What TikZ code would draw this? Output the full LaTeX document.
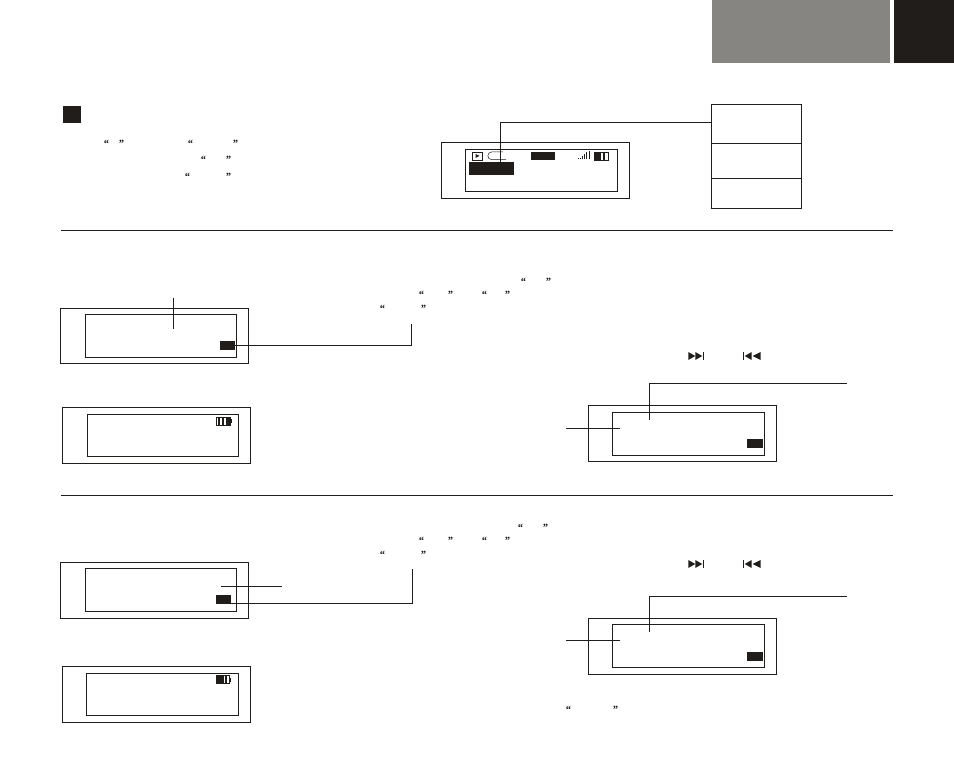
\documentclass[tikz,border=0pt]{standalone}
\usepackage{fontspec}
\setmainfont{Liberation Serif}
\definecolor{dark}{RGB}{33,29,26}
\definecolor{midgray}{RGB}{135,133,129}
\tikzset{
  x=1pt,y=-1pt,
  line width=1.2pt,
  frame/.style={draw=dark,rectangle,inner sep=0pt,outer sep=0pt},
  solid block/.style={fill=dark,draw=none,rectangle,inner sep=0pt,outer sep=0pt},
  gray block/.style={fill=midgray,draw=none,rectangle,inner sep=0pt,outer sep=0pt},
  link/.style={draw=dark,line width=1.2pt},
  quotemark/.style={inner sep=0pt,outer sep=0pt,yshift=-2.3pt,font=\fontsize{11}{11}\selectfont\bfseries\itshape,text=dark}
}
% \bx[style]{name}{x1}{y1}{x2}{y2}
\newcommand{\bx}[6][frame]{%
  \pgfmathsetmacro{\bw}{#5-#3}\pgfmathsetmacro{\bh}{#6-#4}%
  \pgfmathsetmacro{\cx}{(#3+#5)/2}\pgfmathsetmacro{\cy}{(#4+#6)/2}%
  \node[#1,minimum width=\bw pt,minimum height=\bh pt] (#2) at (\cx,\cy) {};}
\newcommand{\qq}[4]{%
  \node[quotemark] (#1o) at (#2,#4) {“};\node[quotemark] (#1c) at (#3,#4) {”};}
% battery: name x1 y1 x2 y2 cells
\newcommand{\batt}[6]{%
  \bx{#1}{#2}{#3}{#4}{#5}
  \fill[dark] (#4,#3+2) rectangle (#4+1.4,#5-2);
  \foreach \a/\b in {#6}{\fill[dark] (#2+\a,#3) rectangle (#2+\b,#5);}}
\newcommand{\nexticon}[2]{%
  \fill[dark] (#1,#2) -- (#1+7,#2+4) -- (#1,#2+8) -- cycle;
  \fill[dark] (#1+7,#2) -- (#1+14,#2+4) -- (#1+7,#2+8) -- cycle;
  \fill[dark] (#1+14.6,#2) rectangle (#1+16,#2+8);}
\newcommand{\previcon}[2]{%
  \fill[dark] (#1,#2) rectangle (#1+1.4,#2+8);
  \fill[dark] (#1+9,#2) -- (#1+2,#2+4) -- (#1+9,#2+8) -- cycle;
  \fill[dark] (#1+18,#2) -- (#1+10,#2+4) -- (#1+18,#2+8) -- cycle;}
\begin{document}
\begin{tikzpicture}
\useasboundingbox (0,0) rectangle (954,783);
\fill[white] (0,0) rectangle (954,783);
% header
\bx[gray block]{hgray}{712}{0}{890}{63}
\bx[solid block]{hdark}{894}{0}{954}{63}
\bx[solid block]{bullet}{63}{106}{81}{123}
% rules
\coordinate (r1a) at (61,230.5);\coordinate (r1b) at (893,230.5);
\coordinate (r2a) at (61,495.5);\coordinate (r2b) at (893,495.5);
\draw[link] (r1a) -- (r1b);
\draw[link] (r2a) -- (r2b);
% quotes
\qq{a1}{106}{121}{142}\qq{a2}{190}{235}{142}
\qq{a3}{203}{228}{158}
\qq{a4}{187}{228}{175}
\qq{b1}{523}{548}{280}
\qq{b2}{421}{450}{293}\qq{b3}{484}{507}{293}
\qq{b4}{382}{423}{307}
\qq{c1}{520}{545}{526}
\qq{c2}{421}{450}{539}\qq{c3}{484}{507}{539}
\qq{c4}{382}{423}{553}
\qq{d1}{568}{615}{708}
% device 1
\bx{d1out}{441.5}{142.5}{629.5}{198.5}
\bx{d1in}{465.5}{149.5}{617.5}{191.5}
\bx[solid block]{d1bar}{469}{162}{514}{175}
\bx[solid block]{d1mid}{531}{152}{555}{160}
\bx[frame,line width=0.9pt]{d1play}{472.5}{152}{482}{160}
\fill[dark] (475.5,154) -- (479.5,156) -- (475.5,158) -- cycle;
\draw[dark,line width=0.5pt] (506,159.6) -- (491.6,159.6) arc[start angle=90,end angle=270,radius=3.8] -- (503,152);
\foreach \i/\h in {0/1,1/1.5,2/3,3/5,4/7,5/8}{\draw[dark,line width=0.9pt] (578.5+2.1*\i,159.5) -- ++(0,-\h);}
\batt{d1bat}{594.5}{152.5}{608}{160.5}{0/6.5,8/10}
\bx{rtop}{711.5}{104.5}{801.5}{143.5}
\bx{rmid}{711.5}{143.5}{801.5}{178.5}
\bx{rbot}{711.5}{178.5}{801.5}{208.5}
\coordinate (l1a) at (711.5,122.5);\coordinate (l1b) at (500.5,163);
\draw[link] (l1a) -| (l1b);
% device 2
\bx{d2out}{60.5}{308.5}{248.5}{363.5}
\bx{d2in}{85.5}{314.5}{236.5}{357.5}
\bx[solid block]{d2ind}{220}{341}{235}{350}
\coordinate (l2a) at (173.5,298);\coordinate (l2b) at (173.5,329);
\draw[link] (l2a) -- (l2b);
\coordinate (l3a) at (235,345.5);\coordinate (l3b) at (411.5,324);
\draw[link] (l3a) -| (l3b);
% device 3
\bx{d3out}{62.5}{407.5}{250.5}{463.5}
\bx{d3in}{87.5}{414.5}{238.5}{456.5}
\batt{d3bat}{216.5}{417.5}{230.5}{425.5}{1/3.6,5/7.6,9/13}
% device 4
\bx{d4out}{588.5}{405.5}{776.5}{461.5}
\bx{d4in}{612.5}{412.5}{764.5}{455.5}
\bx[solid block]{d4ind}{747}{439}{763}{448}
\coordinate (l4a) at (846.5,383.5);\coordinate (l4b) at (649.5,420);
\draw[link] (l4a) -| (l4b);
\coordinate (l5a) at (566,428.5);\coordinate (l5b) at (620,428.5);
\draw[link] (l5a) -- (l5b);
\nexticon{688.3}{352}
\previcon{742.7}{352}
% device 5
\bx{d5out}{60.5}{562.5}{248.5}{618.5}
\bx{d5in}{85.5}{568.5}{236.5}{611.5}
\bx[solid block]{d5ind}{216}{595}{231}{604}
\coordinate (l6a) at (221,586.5);\coordinate (l6b) at (281.5,586.5);
\draw[link] (l6a) -- (l6b);
\coordinate (l7a) at (231,603.5);\coordinate (l7b) at (412.5,569);
\draw[link] (l7a) -| (l7b);
% device 6
\bx{d6out}{62.5}{666.5}{250.5}{722.5}
\bx{d6in}{86.5}{673.5}{238.5}{715.5}
\batt{d6bat}{216.5}{675.5}{229.5}{683.5}{0/7,8/10.5}
% device 7
\bx{d7out}{588.5}{618.5}{776.5}{674.5}
\bx{d7in}{612.5}{624.5}{764.5}{667.5}
\bx[solid block]{d7ind}{747}{652}{763}{661}
\coordinate (l8a) at (846.5,596.5);\coordinate (l8b) at (649.5,631.5);
\draw[link] (l8a) -| (l8b);
\coordinate (l9a) at (566,640.5);\coordinate (l9b) at (620,640.5);
\draw[link] (l9a) -- (l9b);
\nexticon{688.3}{560}
\previcon{742.7}{560}
\end{tikzpicture}
\end{document}
